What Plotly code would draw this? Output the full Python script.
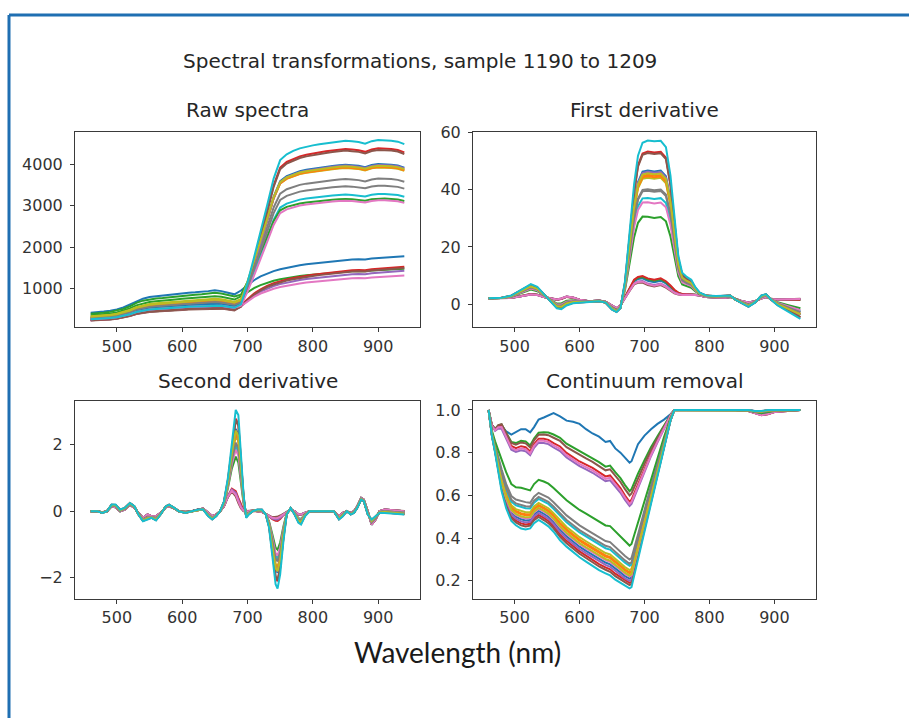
import numpy as np
import plotly.graph_objects as go

# ---------------------------------------------------------------------------
# Data: 20 leaf spectra (samples 1190-1209) and three transformations
# ---------------------------------------------------------------------------
COLORS = ["#1f77b4", "#ff7f0e", "#2ca02c", "#d62728", "#9467bd",
          "#8c564b", "#e377c2", "#7f7f7f", "#bcbd22", "#17becf"]
N_SAMPLES = 20

# --- Raw spectra -----------------------------------------------------------
raw_wl = list(range(460, 950, 10))
# visible-range shape (460-680 nm), relative to reflectance at 650 nm
raw_vis_shape = [0.44, 0.45, 0.47, 0.49, 0.52, 0.57, 0.64, 0.73, 0.79, 0.83,
                 0.85, 0.86, 0.88, 0.90, 0.92, 0.94, 0.95, 0.96, 0.98, 1.00,
                 0.98, 0.94, 0.90]
# red edge + NIR plateau (690-940 nm), fraction of the way to the plateau
raw_edge_steep = [0.02, 0.15, 0.30, 0.45, 0.61, 0.77, 0.88, 0.915, 0.935, 0.95,
                  0.96, 0.968, 0.975, 0.981, 0.987, 0.992, 0.996, 0.992, 0.988,
                  0.978, 0.993, 1.00, 1.00, 0.996, 0.99, 0.975]
raw_edge_gradual = [0.10, 0.24, 0.37, 0.47, 0.55, 0.61, 0.66, 0.70, 0.735, 0.765,
                    0.79, 0.81, 0.83, 0.85, 0.87, 0.89, 0.905, 0.915, 0.92,
                    0.915, 0.94, 0.955, 0.965, 0.975, 0.99, 1.00]
raw_vis_level = [960, 660, 820, 560, 540, 530, 550, 700, 760, 620,
                 640, 700, 900, 560, 580, 540, 600, 680, 740, 600]
raw_nir_level = [1780, 3950, 1480, 1530, 1430, 1500, 1320, 3650, 3920, 3280,
                 4000, 3930, 3170, 4380, 3980, 4340, 3130, 3480, 3960, 4580]
low_vigour = [True, False, True, True, True, True, True, False, False, False,
              False, False, False, False, False, False, False, False, False, False]

# --- First derivative -------------------------------------------------------
d1_wl = [460, 480, 495, 510, 525, 535, 545, 555, 565, 572, 580, 590, 600, 615,
         630, 640, 650, 657, 663, 670, 677, 684, 690, 697, 705, 715, 725, 733,
         740, 746, 752, 758, 765, 772, 778, 785, 795, 810, 825, 832, 840, 850,
         860, 870, 880, 887, 895, 905, 920, 940]
d1_high = [2.0, 2.2, 3.0, 5.0, 7.0, 6.0, 3.5, 1.0, -1.5, -1.8, -0.5, 0.3, 0.5,
           0.8, 1.0, 0.5, -2.0, -2.8, -1.5, 8.0, 25.0, 42.0, 52.0, 56.5, 57.3,
           57.0, 57.2, 55.0, 45.0, 30.0, 17.0, 11.0, 9.5, 8.5, 6.0, 4.0, 3.0,
           2.8, 2.8, 3.0, 1.5, 0.2, -1.0, 0.5, 3.0, 3.5, 1.5, -0.5, -2.5, -5.2]
d1_low = [2.0, 2.0, 2.2, 2.8, 3.5, 3.3, 2.5, 2.0, 1.5, 1.8, 2.5, 2.2, 1.5, 1.0,
          1.2, 0.8, -0.5, -1.5, -0.5, 2.5, 5.5, 8.5, 9.5, 9.8, 9.0, 8.5, 9.0,
          8.0, 6.5, 5.0, 4.0, 3.5, 3.5, 3.5, 3.3, 3.0, 2.5, 2.3, 2.2, 2.5, 1.8,
          1.0, 0.5, 1.0, 2.0, 2.5, 1.8, 1.5, 1.5, 1.5]
d1_peak = [9.0, 45.5, 9.5, 9.8, 8.0, 7.5, 7.8, 40.0, 44.5, 37.5,
           47.0, 45.0, 31.0, 53.5, 46.5, 53.0, 36.0, 40.5, 46.0, 57.3]

# --- Second derivative ------------------------------------------------------
d2_wl = [460, 470, 478, 485, 492, 498, 505, 512, 520, 527, 533, 540, 547, 553,
         560, 567, 575, 580, 588, 595, 605, 615, 625, 632, 640, 646, 652, 658,
         664, 670, 676, 682, 686, 690, 694, 698, 702, 708, 715, 722, 728, 733,
         738, 743, 746, 750, 755, 760, 766, 772, 778, 782, 788, 795, 810, 825,
         832, 840, 846, 852, 858, 863, 868, 874, 878, 884, 890, 896, 902, 910,
         925, 940]
d2_high = [0.0, 0.0, -0.05, 0.0, 0.2, 0.2, 0.05, 0.1, 0.25, 0.15,
           -0.1, -0.3, -0.25, -0.2, -0.28, -0.1, 0.15, 0.2, 0.1, 0.0,
           -0.05, 0.0, 0.05, 0.05, -0.15, -0.25, -0.15, 0.0, 0.3, 1.0,
           2.1, 3.05, 2.9, 1.8, 0.5, -0.2, -0.1, 0.0, 0.05, 0.05,
           -0.1, -0.5, -1.3, -2.2, -2.33, -1.9, -0.9, -0.1, 0.1, -0.1,
           -0.35, -0.4, -0.15, 0.0, 0.0, 0.0, 0.0, -0.25, -0.15, 0.0,
           -0.1, -0.05, 0.1, 0.35, 0.3, -0.1, -0.25, -0.15, -0.05, -0.05,
           -0.08, -0.1]
d2_low = [0.0, 0.0, -0.03, 0.0, 0.15, 0.12, 0.0, 0.05, 0.2, 0.1,
          -0.05, -0.2, -0.1, -0.15, -0.15, -0.05, 0.12, 0.15, 0.08, 0.0,
          -0.02, 0.0, 0.05, 0.08, -0.05, -0.15, -0.1, 0.0, 0.15, 0.45,
          0.65, 0.55, 0.35, 0.15, 0.02, 0.0, 0.0, 0.02, 0.0, -0.02,
          -0.08, -0.15, -0.22, -0.25, -0.25, -0.2, -0.1, -0.03, 0.05, 0.0,
          -0.1, -0.1, -0.05, 0.0, 0.0, 0.0, 0.0, -0.15, -0.05, 0.0,
          -0.05, 0.0, 0.15, 0.4, 0.35, 0.0, -0.4, -0.25, 0.0, 0.05,
          0.02, 0.0]
d2_peak = [0.6, 2.4, 0.6, 0.7, 0.65, 0.55, 0.6, 2.1, 2.3, 2.0,
           2.5, 2.35, 1.7, 2.8, 2.45, 2.75, 1.9, 2.1, 2.45, 3.05]

# --- Continuum removal ------------------------------------------------------
cr_wl = [460, 465, 470, 475, 480, 487, 495, 502, 510, 517, 524, 530, 537, 545,
         552, 560, 570, 580, 590, 600, 610, 620, 630, 640, 647, 655, 663, 670,
         677, 680, 690, 700, 710, 720, 730, 740, 746, 760, 780, 800, 820, 840,
         860, 870, 880, 890, 900, 920, 940]
cr_top = [1.0, 0.93, 0.91, 0.92, 0.925, 0.9, 0.885, 0.895, 0.91, 0.91,
          0.895, 0.92, 0.955, 0.965, 0.975, 0.985, 0.97, 0.95, 0.945, 0.935,
          0.91, 0.89, 0.875, 0.85, 0.855, 0.82, 0.8, 0.775, 0.753, 0.76,
          0.84, 0.88, 0.91, 0.935, 0.955, 0.98, 1.0, 1.0, 1.0, 1.0,
          1.0, 1.0, 0.995, 0.99, 0.985, 0.99, 0.995, 1.0, 1.0]
cr_mid = [1.0, 0.93, 0.91, 0.93, 0.935, 0.89, 0.84, 0.83, 0.84, 0.835,
          0.815, 0.85, 0.875, 0.875, 0.87, 0.855, 0.84, 0.81, 0.79, 0.77,
          0.755, 0.74, 0.72, 0.7, 0.705, 0.675, 0.645, 0.61, 0.58, 0.59,
          0.66, 0.73, 0.8, 0.86, 0.92, 0.975, 1.0, 1.0, 1.0, 1.0,
          1.0, 1.0, 0.995, 0.985, 0.975, 0.98, 0.99, 0.995, 1.0]
cr_bottom = [1.0, 0.88, 0.8, 0.7, 0.62, 0.54, 0.48, 0.46, 0.445, 0.44,
             0.445, 0.47, 0.485, 0.47, 0.455, 0.43, 0.39, 0.36, 0.335, 0.31,
             0.29, 0.27, 0.25, 0.235, 0.225, 0.205, 0.19, 0.175, 0.165, 0.17,
             0.3, 0.44, 0.57, 0.7, 0.83, 0.95, 1.0, 1.0, 1.0, 1.0,
             1.0, 1.0, 1.0, 0.995, 0.995, 1.0, 1.0, 1.0, 1.0]
cr_min = [0.753, 0.24, 0.62, 0.57, 0.55, 0.60, 0.56, 0.30, 0.25, 0.27,
          0.21, 0.235, 0.365, 0.19, 0.20, 0.18, 0.22, 0.28, 0.225, 0.165]

x_ticks = [500, 600, 700, 800, 900]

# ---------------------------------------------------------------------------
# Build the per-sample curves
# ---------------------------------------------------------------------------
def raw_curve(s):
    vis = np.array(raw_vis_shape) * raw_vis_level[s]
    edge = np.array(raw_edge_gradual if low_vigour[s] else raw_edge_steep)
    nir = vis[-1] + (raw_nir_level[s] - vis[-1]) * edge
    return np.concatenate([vis, nir])


def mix(lo, hi, lo_ref, hi_ref, value):
    lo, hi = np.array(lo), np.array(hi)
    t = (value - lo_ref) / (hi_ref - lo_ref)
    return lo + t * (hi - lo)


def d1_curve(s):
    return mix(d1_low, d1_high, max(d1_low), max(d1_high), d1_peak[s])


def d2_curve(s):
    return mix(d2_low, d2_high, max(d2_low), max(d2_high), d2_peak[s])


def cr_curve(s):
    m = cr_min[s]
    if m >= min(cr_mid):
        return mix(cr_mid, cr_top, min(cr_mid), min(cr_top), m)
    return mix(cr_bottom, cr_mid, min(cr_bottom), min(cr_mid), m)


# ---------------------------------------------------------------------------
# Figure
# ---------------------------------------------------------------------------
W, H = 909, 718
fig = go.Figure()

panels = [
    ("x", "y", raw_wl, raw_curve),
    ("x2", "y2", d1_wl, d1_curve),
    ("x3", "y3", d2_wl, d2_curve),
    ("x4", "y4", cr_wl, cr_curve),
]
for xa, ya, wl, fn in panels:
    for s in range(N_SAMPLES):
        fig.add_trace(go.Scatter(
            x=wl, y=fn(s), mode="lines", xaxis=xa, yaxis=ya,
            line=dict(color=COLORS[s % 10], width=2),
            showlegend=False, hoverinfo="skip"))


def px_x(a, b):
    return [a / W, b / W]


def px_y(top, bottom):
    return [1 - bottom / H, 1 - top / H]


col_x = [px_x(75, 420), px_x(473, 816)]
row_y = [px_y(124.5, 322.5), px_y(397, 597)]

axis_style = dict(showline=True, mirror=True, linecolor="#3a3a3a", linewidth=1,
                  ticks="outside", ticklen=4, tickwidth=1, tickcolor="#3a3a3a",
                  showgrid=False, zeroline=False,
                  tickfont=dict(family="DejaVu Sans", size=16, color="#333333"))

layout_axes = {}
specs = [
    ("xaxis", "yaxis", 0, 0, [66, 4774], [1000, 2000, 3000, 4000], None),
    ("xaxis2", "yaxis2", 1, 0, [-8.2, 60.3], [0, 20, 40, 60], None),
    ("xaxis3", "yaxis3", 0, 1, [-2.63, 3.32], [-2, 0, 2], None),
    ("xaxis4", "yaxis4", 1, 1, [0.117, 1.042], [0.2, 0.4, 0.6, 0.8, 1.0], ".1f"),
]
for i, (xk, yk, c, r, yr, yt, fmt) in enumerate(specs):
    anchor_x = "y" if i == 0 else f"y{i + 1}"
    anchor_y = "x" if i == 0 else f"x{i + 1}"
    layout_axes[xk] = dict(domain=col_x[c], range=[436, 964], tickvals=x_ticks,
                           anchor=anchor_x, **axis_style)
    ya = dict(domain=row_y[r], range=yr, tickvals=yt, anchor=anchor_y,
              ticklabelstandoff=4, **axis_style)
    if fmt:
        ya["tickformat"] = fmt
    layout_axes[yk] = ya

fig.update_layout(**layout_axes)

title_font = dict(family="DejaVu Sans", size=20, color="#262626")
annotations = [
    dict(text="Spectral transformations, sample 1190 to 1209", x=420 / W, y=1 - 53 / H),
    dict(text="Raw spectra", x=247.5 / W, y=1 - 102 / H),
    dict(text="First derivative", x=644.5 / W, y=1 - 102 / H),
    dict(text="Second derivative", x=247.5 / W, y=1 - 377 / H),
    dict(text="Continuum removal", x=644.5 / W, y=1 - 377 / H),
]
for a in annotations:
    a.update(xref="paper", yref="paper", showarrow=False, xanchor="center",
             yanchor="middle", font=title_font)
annotations.append(dict(text="Wavelength (nm)", x=457.5 / W, y=1 - 651 / H,
                        xref="paper", yref="paper", showarrow=False,
                        xanchor="center", yanchor="middle",
                        font=dict(family="Lato", size=28, color="#1a1a1a")))

frame_color = "#1f6fb2"
shapes = [
    dict(type="line", xref="paper", yref="paper", x0=9 / W, x1=1,
         y0=1 - 6 / H, y1=1 - 6 / H, line=dict(color=frame_color, width=3)),
    dict(type="line", xref="paper", yref="paper", x0=9 / W, x1=9 / W,
         y0=0, y1=1 - 6 / H, line=dict(color=frame_color, width=3)),
]

fig.update_layout(width=W, height=H, margin=dict(l=0, r=0, t=0, b=0),
                  paper_bgcolor="white", plot_bgcolor="white",
                  annotations=annotations, shapes=shapes)

fig.write_html("out.html")
